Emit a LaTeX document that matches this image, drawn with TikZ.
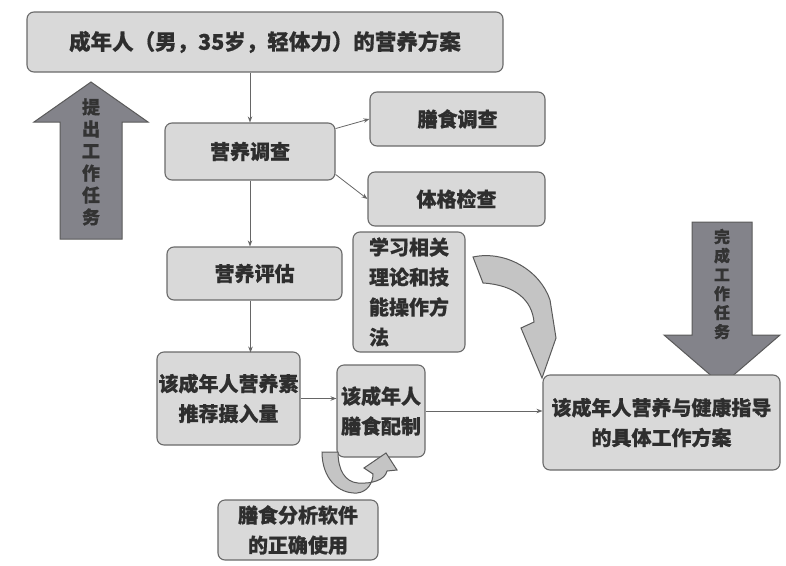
\documentclass[tikz,border=0pt]{standalone}
\usepackage{fontspec}
\newfontfamily\cjk[FakeBold=0.6]{Noto Sans CJK SC}
\usetikzlibrary{arrows.meta}
\definecolor{boxfill}{HTML}{D9D9D9}
\definecolor{boxline}{HTML}{6A6A6A}
\definecolor{arrfill}{HTML}{83838A}
\definecolor{arrline}{HTML}{5A5A5A}
\definecolor{curvefill}{HTML}{C4C4C4}
\definecolor{txt}{HTML}{2E2E2E}
\tikzset{
  box/.style={draw=boxline, line width=1.1pt, fill=boxfill, rounded corners=7pt,
    font=\cjk\bfseries\fontsize{20}{30}\selectfont, text=txt, align=center, inner sep=0pt},
  conn/.style={draw=black!60, line width=0.8pt, -{Stealth[length=6pt,width=4.5pt]}},
  bigarrow/.style={draw=arrline, line width=1pt, fill=arrfill},
  curvearrow/.style={draw=arrline, line width=1pt, fill=curvefill},
  arrtext/.style={font=\cjk\bfseries\fontsize{18}{22}\selectfont, text=black!80, align=center, inner sep=0pt}
}
\begin{document}
\begin{tikzpicture}[x=1pt,y=-1pt]
\useasboundingbox (0,0) rectangle (786,565);
% big side arrows
\draw[bigarrow] (60,239) -- (60,122) -- (34,122) -- (91,82) -- (148,122) -- (122,122) -- (122,239) -- cycle;
\node[arrtext] (upt) at (91,162) {提\\出\\工\\作\\任\\务};
\draw[bigarrow] (692,222) -- (752,222) -- (752,335) -- (780,335) -- (722,385) -- (664,335) -- (692,335) -- cycle;
\node[arrtext, font=\cjk\bfseries\fontsize{16}{19}\selectfont] (dnt) at (722,284) {完\\成\\工\\作\\任\\务};
% boxes
\node[box, font=\cjk\bfseries\fontsize{21.5}{30}\selectfont, minimum width=476pt, minimum height=60pt] (title) at (265,42) {成年人（男，35岁，轻体力）的营养方案};
\node[box, minimum width=170pt, minimum height=57pt] (dc) at (250,151.5) {营养调查};
\node[box, minimum width=175pt, minimum height=54pt] (ss) at (457.5,119) {膳食调查};
\node[box, minimum width=177pt, minimum height=54pt] (tj) at (456.5,199) {体格检查};
\node[box, minimum width=175pt, minimum height=53pt] (pg) at (254.5,273.5) {营养评估};
\node[box, minimum width=112pt, minimum height=120pt, align=left] (xx) at (409,292) {学习相关\\理论和技\\能操作方\\法};
\node[box, minimum width=143pt, minimum height=93pt] (tn) at (228.5,398.5) {该成年人营养素\\推荐摄入量};
\node[box, minimum width=88pt, minimum height=92pt] (pz) at (381,411) {该成年人\\膳食配制};
\node[box, minimum width=237pt, minimum height=95pt] (fa) at (661.5,422.5) {该成年人营养与健康指导\\的具体工作方案};
\node[box, minimum width=160pt, minimum height=60pt] (rj) at (298,530) {膳食分析软件\\的正确使用};
% connectors
\draw[conn] (title.south -| dc.north) -- (dc.north);
\draw[conn] (dc.15) -- (ss.west);
\draw[conn] (dc.-15) -- (tj.west);
\draw[conn] (dc.south) -- (dc.south |- pg.north);
\draw[conn] (pg.south -| tn.north) ++(22,0) -- ++(0,52);
\draw[conn] (tn.east) -- (tn.east -| pz.west);
\draw[conn] (pz.east) -- (pz.east -| fa.west);
% curved arrows
\draw[curvearrow] (473,257) .. controls (505,250) and (540,270) .. (550,300) -- (556,338) -- (542,378) -- (521,328) -- (534,322) .. controls (532,300) and (515,285) .. (483,283) -- cycle;
\draw[curvearrow] (322,452) .. controls (322,478) and (338,494) .. (357,493) .. controls (368,492) and (373,482) .. (373,474) -- (364,468) -- (386,453) -- (397,470) -- (387,471) .. controls (385,480) and (372,484) .. (358,483) .. controls (345,482) and (338,470) .. (338,452) -- cycle;
\end{tikzpicture}
\end{document}
